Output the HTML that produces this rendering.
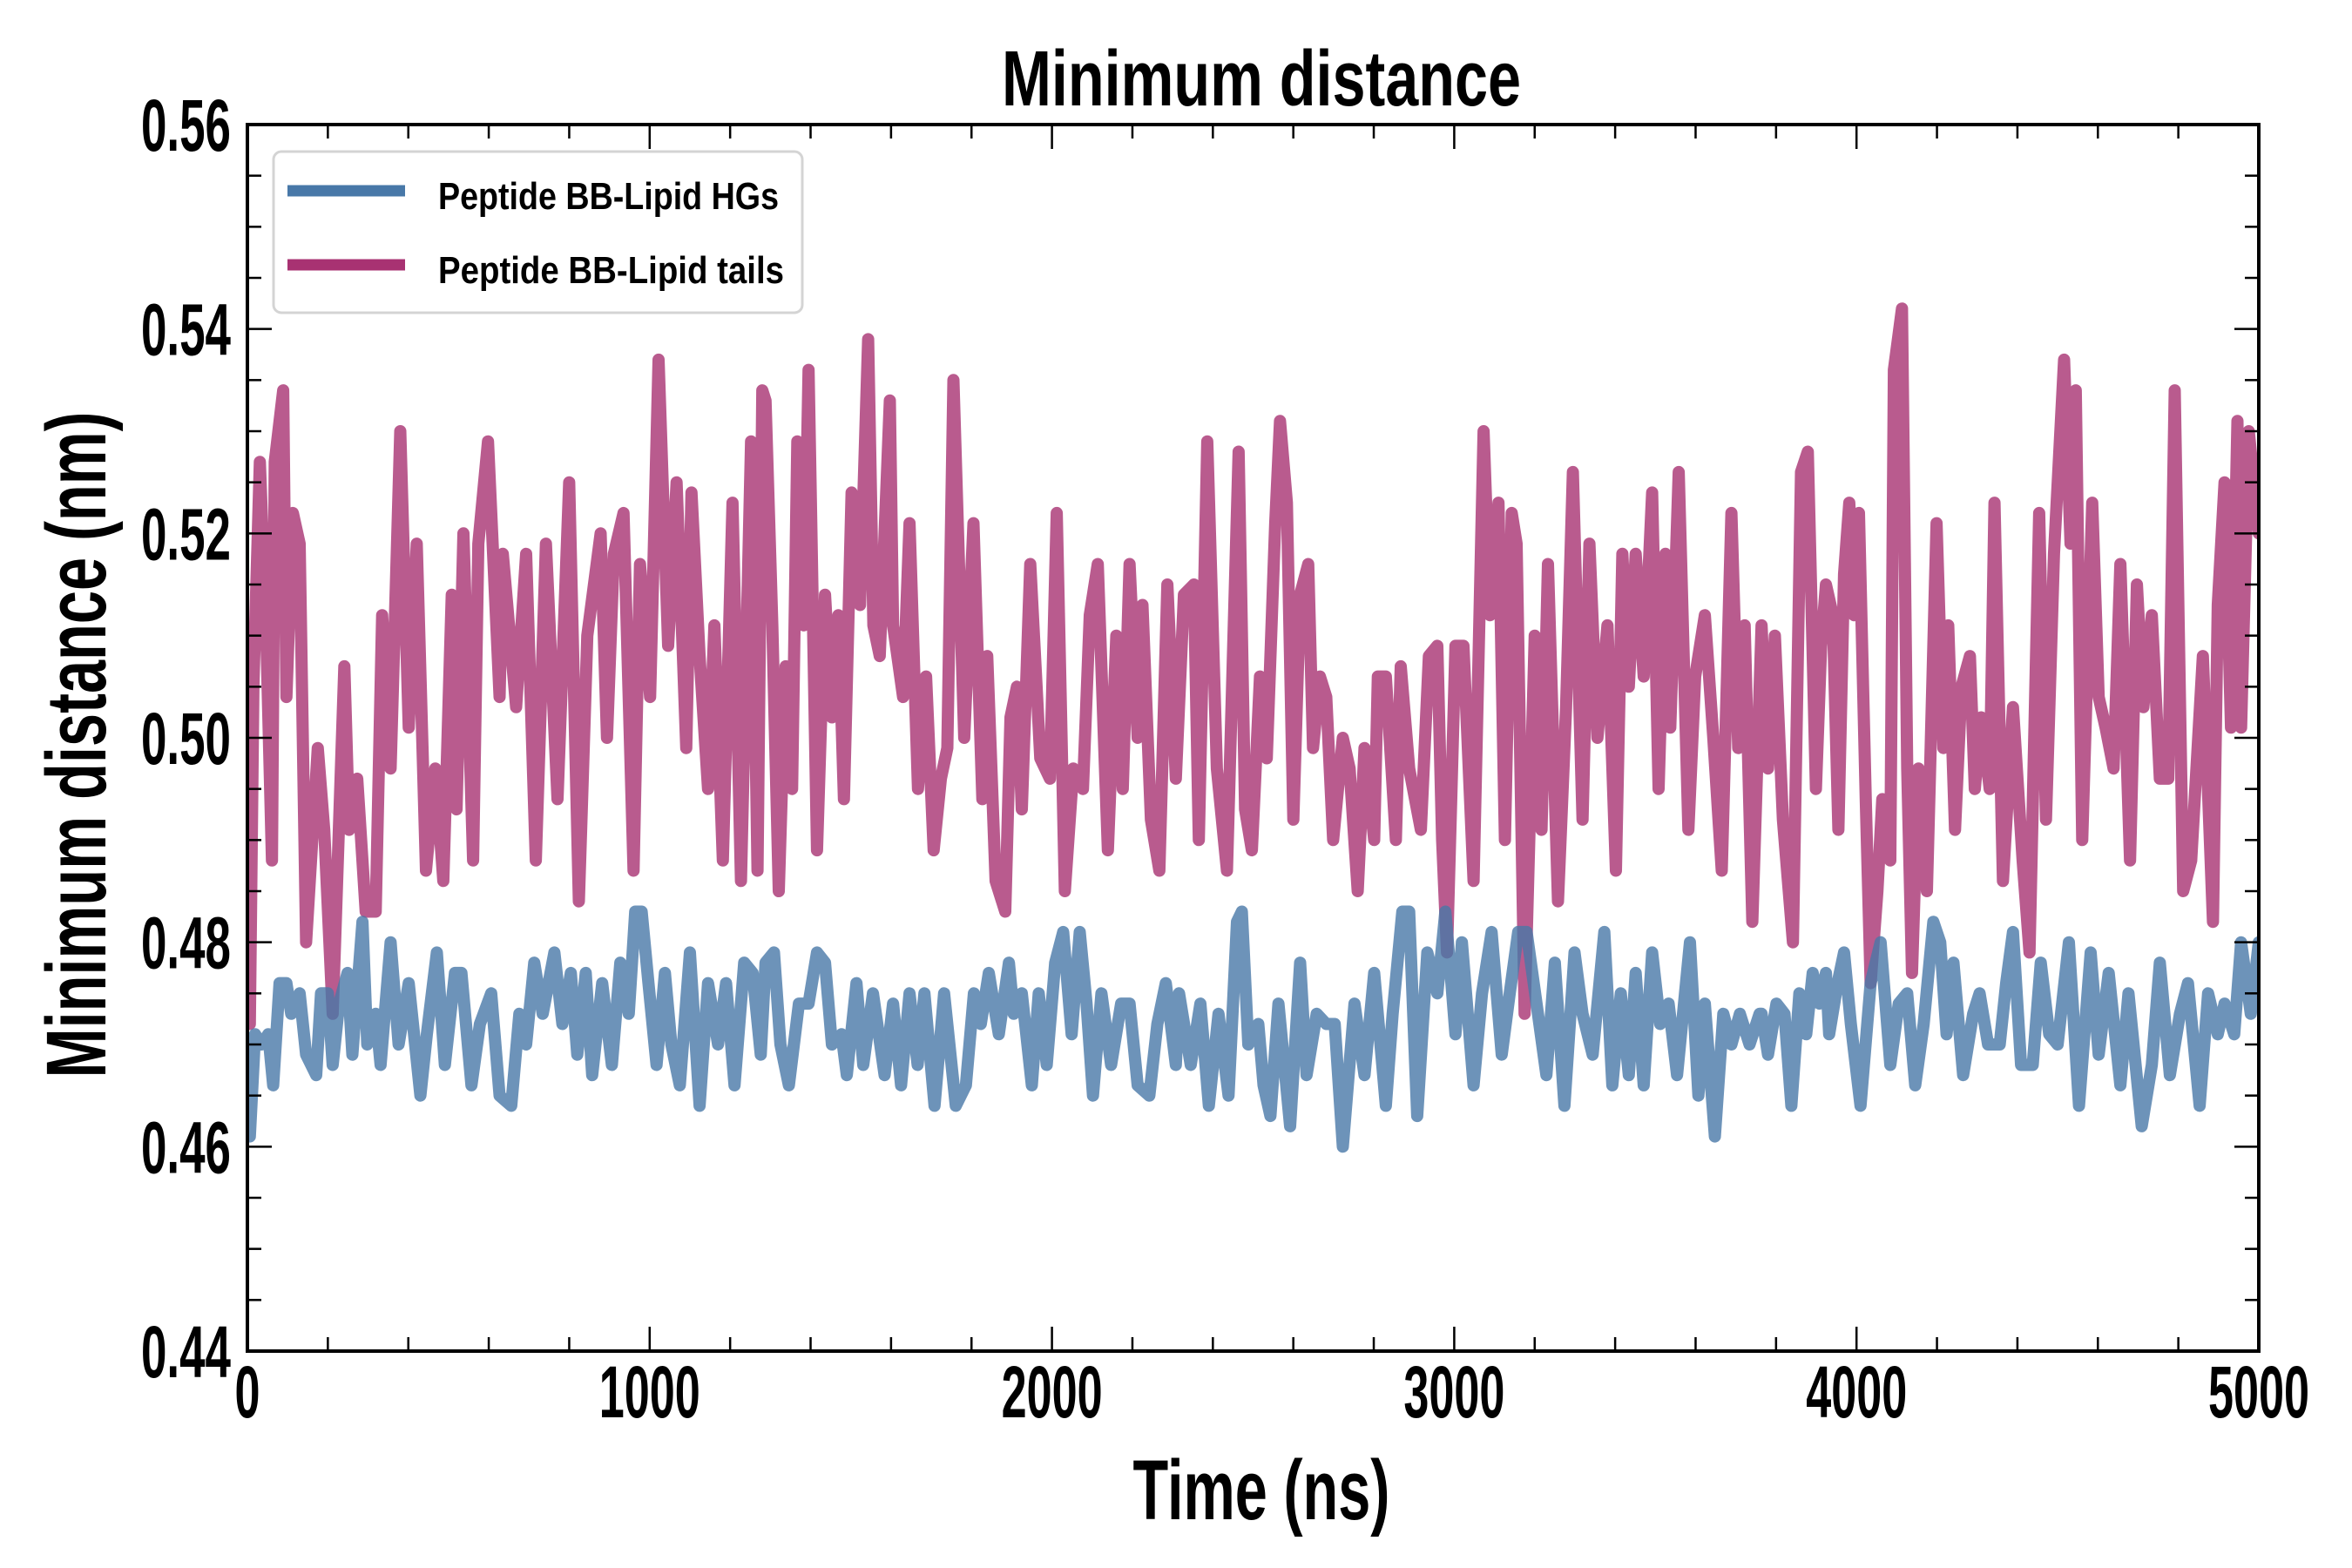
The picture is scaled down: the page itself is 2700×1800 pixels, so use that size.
<!DOCTYPE html>
<html><head><meta charset="utf-8"><style>
html,body{margin:0;padding:0;background:#fff;}
svg{display:block;}
text{font-family:"Liberation Sans Narrow","Liberation Sans",sans-serif;font-weight:bold;fill:#000;}
</style></head><body>
<svg id="chart" width="2700" height="1800" viewBox="0 0 2700 1800" xmlns="http://www.w3.org/2000/svg">
<g id="marks"></g>
<g id="axes"></g>
<text x="1448" y="121" font-size="90" text-anchor="middle" textLength="596" lengthAdjust="spacingAndGlyphs">Minimum distance</text>
<text x="1448" y="1744" font-size="97" text-anchor="middle" textLength="295" lengthAdjust="spacingAndGlyphs">Time (ns)</text>
<text transform="translate(121,855) rotate(-90)" x="0" y="0" font-size="97" text-anchor="middle" textLength="765" lengthAdjust="spacingAndGlyphs">Minimum distance (nm)</text>
<g>
<rect x="314" y="174" width="607" height="185" rx="9" fill="#fff" fill-opacity="0.9" stroke="#d4d4d4" stroke-width="3"/>
<line x1="330" y1="219" x2="465" y2="219" stroke="#4878a8" stroke-width="13"/>
<text x="503" y="240" font-size="44" textLength="391" lengthAdjust="spacingAndGlyphs">Peptide BB-Lipid HGs</text>
<line x1="330" y1="304" x2="465" y2="304" stroke="#a83272" stroke-width="13"/>
<text x="503" y="325" font-size="44" textLength="397" lengthAdjust="spacingAndGlyphs">Peptide BB-Lipid tails</text>
</g>
</svg>
<script>
const xTicks = [0,1000,2000,3000,4000,5000];
const xTickLabels = ["0","1000","2000","3000","4000","5000"];
const yTicks = [0.44,0.46,0.48,0.50,0.52,0.54,0.56];
const yTickLabels = ["0.44","0.46","0.48","0.50","0.52","0.54","0.56"];
const tTails = [0,6,15,31,47,61,68,89,97,113,130,146,175,191,212,241,253,273,294,319,335,356,380,401,421,444,467,487,508,520,537,561,574,598,627,635,668,693,717,742,771,800,824,845,878,894,911,935,960,976,1001,1022,1046,1067,1091,1104,1124,1145,1161,1182,1206,1227,1252,1268,1280,
1288,1305,1321,1338,1354,1367,1383,1395,1416,1436,1453,1469,1483,1502,1523,1543,1556,1572,1597,1605,1630,1646,1667,1687,1706,1724,1740,1755,1782,1805,1827,1839,1860,1884,1897,1913,1925,1946,1971,1995,2012,2032,2053,2077,2094,2114,2139,2160,2176,2193,2213,2225,2246,2267,2287,2308,2328,2353,2365,2386,2410,2435,2464,2480,2497,2517,
2534,2555,2567,2584,2600,2617,2637,2649,2666,2682,2699,2723,2740,2760,2777,2801,2810,2830,2855,2867,2888,2917,2937,2958,2970,2982,3003,3023,3048,3073,3089,3110,3126,3143,3155,3175,3200,3217,3233,3258,3278,3295,3319,3336,3356,3381,3402,3418,3434,3451,3471,3492,3508,3525,3537,3558,3582,3599,3623,3644,3665,3689,3706,3722,3741,
3764,3780,3797,3817,3842,3862,3879,3899,3912,3924,3941,3955,3969,3982,3994,4006,4023,4035,4052,4064,4084,4093,4113,4126,4138,4154,4175,4199,4216,4228,4245,4261,4282,4294,4310,4331,4343,4364,4389,4413,4430,4454,4471,4491,4516,4532,4545,4561,4586,4602,4619,4639,4656,4680,4697,4713,4734,4754,4775,4791,4812,4832,4861,4886,4898,4915,4931,4947,4956,4975,5000];
const vTails = [0.483,0.472,0.505,0.527,0.510,0.488,0.527,0.534,0.504,0.522,0.519,0.480,0.499,0.491,0.473,0.507,0.491,0.496,0.483,0.483,0.512,0.497,0.530,0.501,0.519,0.487,0.497,0.486,0.514,0.493,0.520,0.488,0.519,0.529,0.504,0.518,0.503,0.518,0.488,0.519,0.494,0.525,0.484,0.510,0.520,0.500,0.518,0.522,0.487,0.517,0.504,0.537,0.509,0.525,0.499,0.524,0.508,0.495,0.511,0.488,0.523,0.486,0.529,0.487,0.534,
0.533,0.511,0.485,0.507,0.495,0.529,0.511,0.536,0.489,0.514,0.502,0.512,0.494,0.524,0.513,0.539,0.511,0.508,0.533,0.511,0.504,0.521,0.495,0.506,0.489,0.496,0.499,0.535,0.500,0.521,0.494,0.508,0.486,0.483,0.502,0.505,0.493,0.517,0.498,0.496,0.522,0.485,0.497,0.495,0.512,0.517,0.489,0.510,0.495,0.517,0.500,0.513,0.492,0.487,0.515,0.496,0.514,0.515,0.490,0.529,0.497,0.487,0.528,0.493,0.489,0.506,
0.498,0.521,0.531,0.523,0.492,0.514,0.517,0.499,0.506,0.504,0.490,0.500,0.497,0.485,0.499,0.490,0.506,0.506,0.490,0.507,0.497,0.491,0.508,0.509,0.490,0.479,0.509,0.509,0.486,0.530,0.512,0.523,0.490,0.522,0.519,0.473,0.510,0.491,0.517,0.484,0.503,0.526,0.492,0.519,0.500,0.511,0.487,0.518,0.505,0.518,0.506,0.524,0.495,0.518,0.501,0.526,0.491,0.506,0.512,0.500,0.487,0.522,0.499,0.511,0.482,
0.511,0.497,0.510,0.492,0.480,0.526,0.528,0.495,0.509,0.515,0.512,0.491,0.516,0.523,0.512,0.522,0.494,0.476,0.485,0.494,0.488,0.536,0.542,0.497,0.477,0.497,0.485,0.521,0.499,0.511,0.491,0.505,0.508,0.495,0.502,0.495,0.523,0.486,0.503,0.488,0.479,0.522,0.492,0.518,0.537,0.519,0.534,0.490,0.523,0.504,0.501,0.497,0.517,0.488,0.515,0.503,0.512,0.496,0.496,0.534,0.485,0.488,0.508,0.482,0.513,0.525,0.501,0.531,0.501,0.530,0.520];
const tHGs = [0,6,19,35,52,64,80,97,109,130,146,171,183,200,212,228,249,261,286,298,319,331,356,376,401,430,446,471,491,516,532,557,578,606,627,656,676,693,713,734,763,783,804,820,841,857,882,906,927,948,964,980,997,1017,1038,1054,1075,1100,1124,1145,1170,1190,1211,1235,1256,1276,
1288,1309,1325,1346,1371,1395,1416,1436,1453,1477,1490,1514,1531,1555,1584,1605,1625,1646,1666,1683,1708,1732,1761,1786,1806,1823,1843,1868,1893,1905,1925,1950,1967,1987,2008,2028,2049,2069,2086,2102,2123,2147,2172,2193,2213,2242,2262,2283,2308,2316,2345,2369,2390,2414,2439,2460,2472,2488,2513,
2526,2543,2563,2592,2617,2633,2658,2682,2703,2723,2752,2777,2801,2830,2847,2871,2888,2908,2933,2958,2978,2991,3003,3019,3048,3069,3093,3118,3138,3159,3180,3208,3229,3250,3274,3299,3319,3344,3373,3393,3414,3434,3451,3471,3492,3512,3533,3554,3586,3607,3623,3648,3669,3689,3710,3734,3759,
3764,3780,3801,3821,3838,3858,3875,3891,3908,3924,3932,3953,3969,3986,4010,4035,4060,4084,4105,4126,4146,4167,4191,4208,4224,4241,4265,4290,4306,4327,4356,4372,4389,4409,4438,4458,4479,4500,4528,4553,4582,4602,4627,4656,4676,4709,4734,4754,4779,4804,4824,4853,4874,4898,4915,4939,4956,4980,5000];
const vHGs = [0.465,0.461,0.471,0.470,0.471,0.466,0.476,0.476,0.473,0.475,0.469,0.467,0.475,0.475,0.468,0.474,0.477,0.469,0.482,0.470,0.473,0.468,0.480,0.470,0.476,0.465,0.471,0.479,0.468,0.477,0.477,0.466,0.472,0.475,0.465,0.464,0.473,0.470,0.478,0.473,0.479,0.472,0.477,0.469,0.477,0.467,0.476,0.468,0.478,0.473,0.483,0.483,0.476,0.468,0.477,0.470,0.466,0.479,0.464,0.476,0.470,0.476,0.466,0.478,0.477,0.469,
0.478,0.479,0.470,0.466,0.474,0.474,0.479,0.478,0.470,0.471,0.467,0.476,0.468,0.475,0.467,0.474,0.466,0.475,0.468,0.475,0.464,0.475,0.464,0.466,0.475,0.472,0.477,0.471,0.478,0.473,0.475,0.466,0.475,0.468,0.478,0.481,0.471,0.481,0.474,0.465,0.475,0.468,0.474,0.474,0.466,0.465,0.472,0.476,0.468,0.475,0.468,0.474,0.464,0.473,0.465,0.482,0.483,0.470,0.472,
0.466,0.463,0.474,0.462,0.478,0.467,0.473,0.472,0.472,0.460,0.474,0.467,0.477,0.464,0.473,0.483,0.483,0.463,0.479,0.475,0.483,0.477,0.471,0.480,0.466,0.475,0.481,0.469,0.475,0.481,0.481,0.473,0.467,0.478,0.464,0.479,0.473,0.469,0.481,0.466,0.475,0.467,0.477,0.466,0.479,0.472,0.474,0.467,0.480,0.465,0.474,0.461,0.473,0.470,0.473,0.470,0.473,
0.473,0.469,0.474,0.473,0.464,0.475,0.471,0.477,0.474,0.477,0.471,0.476,0.479,0.472,0.464,0.476,0.480,0.468,0.474,0.475,0.466,0.472,0.482,0.480,0.471,0.478,0.467,0.473,0.475,0.470,0.470,0.476,0.481,0.468,0.468,0.478,0.471,0.470,0.480,0.464,0.479,0.469,0.477,0.466,0.475,0.462,0.468,0.478,0.467,0.473,0.476,0.464,0.475,0.471,0.474,0.471,0.480,0.473,0.480];

const L=284, R=2593, T=143, B=1551;
const X0=0, X1=5000, Y0=0.44, Y1=0.56;
function xs(v){return L+(v-X0)/(X1-X0)*(R-L);}
function ys(v){return B-(v-Y0)/(Y1-Y0)*(B-T);}
const NS="http://www.w3.org/2000/svg";
const marks=document.getElementById('marks');
const axes=document.getElementById('axes');

function series(ts, vs, color, name){
  let d="";
  for(let i=0;i<ts.length;i++){d+=(i?"L":"M")+xs(ts[i]).toFixed(1)+" "+ys(vs[i]).toFixed(1);}
  const p=document.createElementNS(NS,'path');
  p.setAttribute('d',d);
  p.setAttribute('fill','none');
  p.setAttribute('stroke',color);
  p.setAttribute('stroke-opacity','0.8');
  p.setAttribute('stroke-width','14');
  p.setAttribute('stroke-linejoin','round');
  p.setAttribute('stroke-linecap','round');
  
  
  marks.appendChild(p);
}
const clip=document.createElementNS(NS,'clipPath');
clip.setAttribute('id','pc');
const cr=document.createElementNS(NS,'rect');
cr.setAttribute('x',L);cr.setAttribute('y',T);cr.setAttribute('width',R-L);cr.setAttribute('height',B-T);
clip.appendChild(cr);
document.getElementById('chart').appendChild(clip);
marks.setAttribute('clip-path','url(#pc)');
series(tTails, vTails, '#a83272', 'series-lipid-tails-line');
series(tHGs, vHGs, '#4878a8', 'series-lipid-hgs-line');

function line(x1,y1,x2,y2,w,name){
  const l=document.createElementNS(NS,'line');
  l.setAttribute('x1',x1);l.setAttribute('y1',y1);l.setAttribute('x2',x2);l.setAttribute('y2',y2);
  l.setAttribute('stroke','#000');l.setAttribute('stroke-width',w);
  
  
  axes.appendChild(l);
}
function label(x,y,txt,anchor,len,name){
  const t=document.createElementNS(NS,'text');
  t.setAttribute('x',x);t.setAttribute('y',y);t.setAttribute('font-size','84');
  t.setAttribute('text-anchor',anchor);
  t.setAttribute('textLength',len);t.setAttribute('lengthAdjust','spacingAndGlyphs');
  t.textContent=txt;
  
  
  axes.appendChild(t);
}
for(let v=0; v<=5000; v+=200){
  const x=xs(v), major=(v%1000===0);
  const len=major?28:16;
  line(x,B,x,B-len,2.5,'x-tick');
  line(x,T,x,T+len,2.5,'x-tick-top');
}
for(let k=0;k<=24;k++){
  const v=Y0+k*0.005, y=ys(v), major=(k%4===0);
  const len=major?28:16;
  line(L,y,L+len,y,2.5,'y-tick');
  line(R,y,R-len,y,2.5,'y-tick-right');
}
xTicks.forEach((v,i)=>{
  const s=xTickLabels[i];
  label(xs(v),1627,s,'middle',s.length*29,'x-tick-label');
});
yTicks.forEach((v,i)=>{
  label(265,ys(v)+30,yTickLabels[i],'end',103,'y-tick-label');
});
const frame=document.createElementNS(NS,'rect');
frame.setAttribute('x',L);frame.setAttribute('y',T);frame.setAttribute('width',R-L);frame.setAttribute('height',B-T);
frame.setAttribute('fill','none');frame.setAttribute('stroke','#000');frame.setAttribute('stroke-width','4');


axes.appendChild(frame);
</script>
</body></html>
